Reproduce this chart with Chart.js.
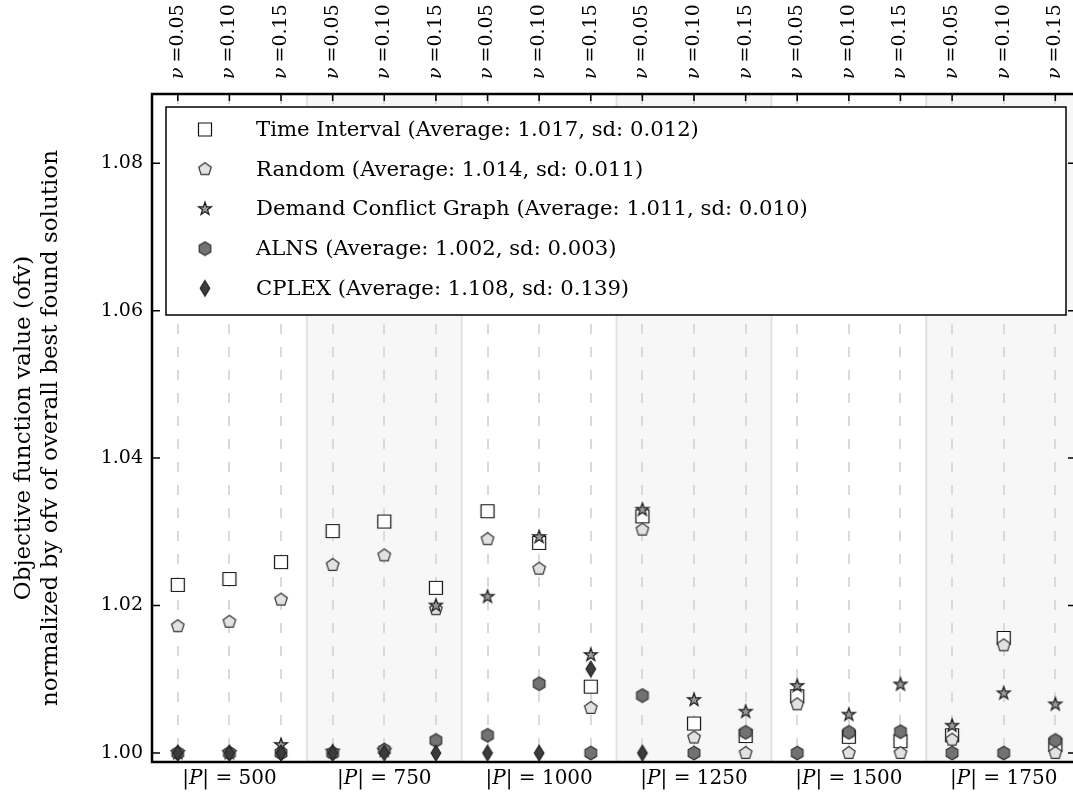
<!DOCTYPE html>
<html><head><meta charset="utf-8">
<script src="https://cdn.jsdelivr.net/npm/chart.js@4"></script>
<style>
html,body{margin:0;padding:0;overflow:hidden;background:#fff;width:1073px;height:796px}
#c{position:absolute;left:0;top:0;width:1073px;height:796px}
</style>
</head><body><canvas id="c" width="1073" height="796"></canvas>
<script>
// ---- data ----
const groupSizes = [500, 750, 1000, 1250, 1500, 1750];
const nuValues = ['0.05', '0.10', '0.15'];
const yTicks = [1.00, 1.02, 1.04, 1.06, 1.08];
const seriesNames = ['Time Interval', 'Random', 'Demand Conflict Graph', 'ALNS', 'CPLEX'];
const seriesAverages = ['1.017', '1.014', '1.011', '1.002', '1.108'];
const seriesSds = ['0.012', '0.011', '0.010', '0.003', '0.139'];
const timeInterval = [1.0228, 1.0236, 1.0259, 1.0301, 1.0314, 1.0224, 1.0328, 1.0285, 1.0090, 1.0321, 1.0040, 1.0023, 1.0077, 1.0022, 1.0016, 1.0024, 1.0156, 1.0011];
const randomVals   = [1.0172, 1.0178, 1.0208, 1.0255, 1.0268, 1.0195, 1.0290, 1.0250, 1.0061, 1.0303, 1.0021, 1.0000, 1.0066, 1.0000, 1.0000, 1.0018, 1.0146, 1.0000];
const demandConflict = [1.0000, 1.0000, 1.0011, 1.0002, 1.0003, 1.0200, 1.0212, 1.0293, 1.0133, 1.0330, 1.0072, 1.0056, 1.0091, 1.0052, 1.0093, 1.0037, 1.0081, 1.0066];
const alnsVals     = [1.0000, 1.0000, 1.0000, 1.0000, 1.0004, 1.0017, 1.0024, 1.0094, 1.0000, 1.0078, 1.0000, 1.0028, 1.0000, 1.0028, 1.0029, 1.0000, 1.0000, 1.0017];
const cplexVals    = [1.0000, 1.0000, 1.0000, 1.0000, 1.0000, 1.0000, 1.0000, 1.0000, 1.0114, 1.0000, 1.12, 1.18, 1.26, 1.15, 1.35, 1.22, 1.30, 1.35];

// visible x range (the right part of the last group runs off the picture)
const xMin = -0.5, xMax = 17.342;

// ---- marker images ----
function mk(w, h, fill, stroke, pathFn) {
  const c = document.createElement('canvas');
  c.width = w; c.height = h;
  const g = c.getContext('2d');
  g.beginPath(); pathFn(g, w / 2, h / 2); g.closePath();
  g.fillStyle = fill; g.fill();
  g.lineWidth = 1.2; g.strokeStyle = stroke; g.stroke();
  return c;
}
function poly(n, r, rot) {
  return (g, cx, cy) => {
    for (let k = 0; k < n; k++) {
      const a = rot + k * 2 * Math.PI / n;
      const x = cx + r * Math.cos(a), y = cy - r * Math.sin(a);
      k ? g.lineTo(x, y) : g.moveTo(x, y);
    }
  };
}
function star(ro, ri) {
  return (g, cx, cy) => {
    for (let k = 0; k < 10; k++) {
      const a = Math.PI / 2 + k * Math.PI / 5;
      const r = k % 2 ? ri : ro;
      const x = cx + r * Math.cos(a), y = cy - r * Math.sin(a);
      k ? g.lineTo(x, y) : g.moveTo(x, y);
    }
  };
}
const mSquare = mk(18, 18, '#ffffff', '#111', (g, cx, cy) => { g.rect(cx - 6.5, cy - 6.5, 13, 13); });
const mPent = mk(16, 16, '#e2e2e2', '#333', poly(5, 6.6, Math.PI / 2));
const mStar = mk(18, 18, '#9a9a9a', '#1a1a1a', star(6.8, 2.7));
const mHex = mk(16, 16, '#727272', '#333', poly(6, 6.7, Math.PI / 2));
const mDiam = mk(14, 20, '#3c3c3c', '#222', (g, cx, cy) => {
  g.moveTo(cx, cy - 7.8); g.lineTo(cx + 4.8, cy); g.lineTo(cx, cy + 7.8); g.lineTo(cx - 4.8, cy);
});
const markers = [mSquare, mPent, mStar, mHex, mDiam];
const allSeries = [timeInterval, randomVals, demandConflict, alnsVals, cplexVals];

const nCols = groupSizes.length * nuValues.length;
const colIdx = Array.from({length: nCols}, (_, i) => i);

const datasets = allSeries.map((vals, s) => ({
  label: seriesNames[s],
  data: vals.map((v, i) => ({x: i, y: v})),
  pointStyle: markers[s],
  pointRadius: 7,
  pointHoverRadius: 7,
  showLine: false,
  clip: {left: 0, top: 0, right: 10, bottom: 4},
  order: 5 - s
}));

const SERIF = '"DejaVu Serif", serif';

const deco = {
  id: 'deco',
  beforeDraw(chart) {
    const {ctx, chartArea: a, scales: {x}} = chart;
    ctx.save();
    groupSizes.forEach((g, gi) => {
      if (gi % 2 === 1) {
        const l = x.getPixelForValue(gi * 3 - 0.5), r = Math.min(a.right, x.getPixelForValue(gi * 3 + 2.5));
        ctx.fillStyle = '#f7f7f7';
        ctx.fillRect(l, a.top, r - l, a.bottom - a.top);
      }
    });
    ctx.strokeStyle = '#e2e2e2'; ctx.lineWidth = 2;
    for (let gi = 1; gi < groupSizes.length; gi++) {
      const px = x.getPixelForValue(gi * 3 - 0.5);
      ctx.beginPath(); ctx.moveTo(px, a.top); ctx.lineTo(px, a.bottom); ctx.stroke();
    }
    ctx.restore();
  },
  afterDatasetsDraw(chart) {
    const {ctx, chartArea: a, scales: {x, y}} = chart;
    ctx.save();
    // legend
    const lx = a.left + 14, ly = a.top + 13, lw = 1066 - lx, lh = 315 - ly;
    ctx.fillStyle = '#fff';
    ctx.fillRect(lx, ly, lw, lh);
    ctx.strokeStyle = '#000'; ctx.lineWidth = 1.5;
    ctx.strokeRect(lx, ly, lw, lh);
    ctx.font = '21.2px ' + SERIF;
    ctx.fillStyle = '#000';
    ctx.textBaseline = 'middle'; ctx.textAlign = 'left';
    seriesNames.forEach((n, s) => {
      const ry = ly + 22.5 + s * 39.7;
      const m = markers[s];
      ctx.drawImage(m, 205 - m.width / 2, ry - m.height / 2);
      ctx.fillText(n + ' (Average: ' + seriesAverages[s] + ', sd: ' + seriesSds[s] + ')', 256, ry + 1);
    });
    // spines (right spine lies just outside the picture)
    ctx.strokeStyle = '#000'; ctx.lineWidth = 2.5;
    ctx.beginPath();
    ctx.moveTo(a.right + 5, a.top); ctx.lineTo(a.left, a.top); ctx.lineTo(a.left, a.bottom); ctx.lineTo(a.right + 5, a.bottom);
    ctx.stroke();
    // inward ticks
    ctx.lineWidth = 1.5;
    yTicks.forEach(t => {
      const py = y.getPixelForValue(t);
      ctx.beginPath(); ctx.moveTo(a.left, py); ctx.lineTo(a.left + 8, py);
      ctx.moveTo(a.right + 4, py); ctx.lineTo(a.right - 5, py); ctx.stroke();
    });
    colIdx.forEach(i => {
      const px = x.getPixelForValue(i);
      ctx.beginPath(); ctx.moveTo(px, a.top); ctx.lineTo(px, a.top + 7); ctx.stroke();
    });
    // top labels
    ctx.fillStyle = '#000';
    colIdx.forEach(i => {
      const px = x.getPixelForValue(i);
      ctx.save();
      ctx.translate(px, 79);
      ctx.rotate(-Math.PI / 2);
      ctx.textAlign = 'left'; ctx.textBaseline = 'middle';
      ctx.font = 'italic 19px ' + SERIF;
      ctx.fillText('ν', 0, 0);
      let w = ctx.measureText('ν').width + 5;
      ctx.font = '19px ' + SERIF;
      ctx.fillText('=' + nuValues[i % 3], w, 0);
      ctx.restore();
    });
    // bottom labels
    groupSizes.forEach((g, gi) => {
      const cx = x.getPixelForValue(gi * 3 + 1);
      const parts = [['|', ''], ['P', 'italic '], ['|', ''], [' = ' + g, '']];
      let tw = 0;
      parts.forEach(p => { ctx.font = p[1] + '20px ' + SERIF; tw += ctx.measureText(p[0]).width; });
      let cur = cx - tw / 2;
      ctx.textAlign = 'left'; ctx.textBaseline = 'middle';
      parts.forEach(p => {
        ctx.font = p[1] + '20px ' + SERIF;
        ctx.fillText(p[0], cur, 779);
        cur += ctx.measureText(p[0]).width;
      });
    });
    ctx.restore();
  }
};

new Chart(document.getElementById('c'), {
  type: 'scatter',
  data: {datasets},
  plugins: [deco],
  options: {
    responsive: false,
    animation: false,
    devicePixelRatio: 1,
    layout: {padding: 0, autoPadding: false},
    plugins: {legend: {display: false}, tooltip: {enabled: false}},
    scales: {
      x: {
        type: 'linear', position: 'bottom', min: xMin, max: xMax,
        grid: {display: false}, border: {display: false},
        ticks: {display: false},
        afterFit(s) { s.height = 34; }
      },
      x2: {
        type: 'linear', position: 'top', min: xMin, max: xMax,
        afterBuildTicks(s) { s.ticks = colIdx.map(v => ({value: v})); },
        grid: {display: true, color: '#dadada', lineWidth: 2, drawTicks: false},
        border: {display: false, dash: [10, 13]},
        ticks: {display: false},
        afterFit(s) { s.height = 94; }
      },
      y: {
        type: 'linear', position: 'left', min: 0.99878, max: 1.08939,
        afterBuildTicks(s) { s.ticks = yTicks.map(v => ({value: v})); },
        grid: {display: false, drawTicks: false},
        border: {display: false},
        ticks: {color: '#000', padding: 9, font: {family: SERIF, size: 19}, callback: v => Number(v).toFixed(2)},
        title: {
          display: true, color: '#000',
          text: ['Objective function value (ofv)', 'normalized by ofv of overall best found solution'],
          font: {family: SERIF, size: 23}, padding: {top: 10, bottom: 0}
        },
        afterFit(s) { s.width = 152; }
      }
    }
  }
});
</script>
</body></html>
